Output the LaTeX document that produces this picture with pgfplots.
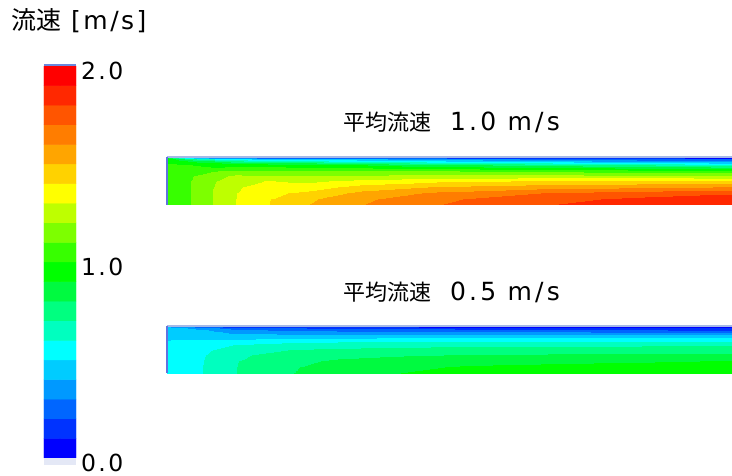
\documentclass[border=0pt]{standalone}
\usepackage{pgfplots}
\pgfplotsset{compat=1.18}
\usepackage{pgfplotstable}
\usepackage{fontspec}
\setmainfont{DejaVu Sans}
\newfontfamily\lat{DejaVu Sans}[LetterSpace=10]
\newfontfamily\latt{DejaVu Sans}[LetterSpace=13]
\newfontfamily\cjk{Noto Sans CJK JP}
\definecolor{wallline}{RGB}{165,185,232}
\definecolor{inletline}{RGB}{95,115,225}
\definecolor{cbtop}{RGB}{105,135,220}
\definecolor{cbbot}{RGB}{228,232,246}
\pgfplotsset{
  colormap={cfd}{rgb255=(0,0,255) rgb255=(0,51,255) rgb255=(0,102,255) rgb255=(0,153,255) rgb255=(0,204,255) rgb255=(0,255,255) rgb255=(0,255,191) rgb255=(0,255,128) rgb255=(0,250,64) rgb255=(0,255,0) rgb255=(55,255,0) rgb255=(125,255,0) rgb255=(190,255,0) rgb255=(255,255,0) rgb255=(255,210,0) rgb255=(255,165,0) rgb255=(255,125,0) rgb255=(255,85,0) rgb255=(255,40,0) rgb255=(255,0,0)},
  field/.style={scale only axis, width=565pt, xmin=0, xmax=565, ymin=0, ymax=1,
    hide axis, colormap name=cfd, colormap access=piecewise constant,
    point meta min=0, point meta max=2, clip=false,
    title style={at={(0.5,1)}, anchor=base, yshift=20pt, xshift=2pt, inner sep=0pt}},
}
% top field: mean velocity 1.0 m/s ; x in px from inlet, y = 1 - distance from wall
\pgfplotstableread[row sep=\\]{
x y u\\
0 1 0\\ 0 0.975 0.93\\ 0 0.95 0.96\\ 0 0.92 0.98\\ 0 0.88 0.995\\ 0 0.83 1.015\\ 0 0.77 1.025\\ 0 0.7 1.03\\ 0 0.6 1.03\\ 0 0.5 1.03\\ 0 0.38 1.03\\ 0 0.25 1.03\\ 0 0.12 1.03\\ 0 0 1.03\\
8 1 0\\ 8 0.975 0.75\\ 8 0.95 0.905\\ 8 0.92 0.96\\ 8 0.88 0.99\\ 8 0.83 1.015\\ 8 0.77 1.035\\ 8 0.7 1.05\\ 8 0.6 1.055\\ 8 0.5 1.06\\ 8 0.38 1.06\\ 8 0.25 1.06\\ 8 0.12 1.06\\ 8 0 1.06\\
23 1 0\\ 23 0.975 0.52\\ 23 0.95 0.74\\ 23 0.92 0.89\\ 23 0.88 0.96\\ 23 0.83 1.003\\ 23 0.77 1.04\\ 23 0.7 1.07\\ 23 0.6 1.09\\ 23 0.5 1.096\\ 23 0.38 1.098\\ 23 0.25 1.098\\ 23 0.12 1.098\\ 23 0 1.098\\
45 1 0\\ 45 0.975 0.38\\ 45 0.95 0.61\\ 45 0.92 0.81\\ 45 0.88 0.92\\ 45 0.83 0.97\\ 45 0.77 1.012\\ 45 0.7 1.09\\ 45 0.6 1.16\\ 45 0.5 1.185\\ 45 0.38 1.195\\ 45 0.25 1.198\\ 45 0.12 1.198\\ 45 0 1.198\\
68 1 0\\ 68 0.975 0.32\\ 68 0.95 0.52\\ 68 0.92 0.71\\ 68 0.88 0.87\\ 68 0.83 0.96\\ 68 0.77 1.04\\ 68 0.7 1.13\\ 68 0.6 1.22\\ 68 0.5 1.265\\ 68 0.38 1.285\\ 68 0.25 1.295\\ 68 0.12 1.298\\ 68 0 1.298\\
101 1 0\\ 101 0.975 0.29\\ 101 0.95 0.48\\ 101 0.92 0.67\\ 101 0.88 0.85\\ 101 0.83 0.95\\ 101 0.77 1.04\\ 101 0.7 1.12\\ 101 0.6 1.22\\ 101 0.5 1.305\\ 101 0.38 1.35\\ 101 0.25 1.38\\ 101 0.12 1.395\\ 101 0 1.398\\
140 1 0\\ 140 0.975 0.28\\ 140 0.95 0.46\\ 140 0.92 0.62\\ 140 0.88 0.81\\ 140 0.83 0.93\\ 140 0.77 1.012\\ 140 0.7 1.105\\ 140 0.6 1.205\\ 140 0.5 1.28\\ 140 0.38 1.35\\ 140 0.25 1.42\\ 140 0.12 1.48\\ 140 0 1.498\\
195 1 0\\ 195 0.975 0.25\\ 195 0.95 0.42\\ 195 0.92 0.57\\ 195 0.88 0.75\\ 195 0.83 0.905\\ 195 0.77 1.005\\ 195 0.7 1.105\\ 195 0.6 1.22\\ 195 0.5 1.33\\ 195 0.38 1.44\\ 195 0.25 1.53\\ 195 0.12 1.58\\ 195 0 1.598\\
271 1 0\\ 271 0.975 0.205\\ 271 0.95 0.36\\ 271 0.92 0.505\\ 271 0.88 0.67\\ 271 0.83 0.83\\ 271 0.77 0.97\\ 271 0.7 1.105\\ 271 0.6 1.24\\ 271 0.5 1.38\\ 271 0.38 1.51\\ 271 0.25 1.62\\ 271 0.12 1.68\\ 271 0 1.698\\
380 1 0\\ 380 0.975 0.14\\ 380 0.95 0.28\\ 380 0.92 0.43\\ 380 0.88 0.605\\ 380 0.83 0.77\\ 380 0.77 0.93\\ 380 0.7 1.08\\ 380 0.6 1.24\\ 380 0.5 1.41\\ 380 0.38 1.56\\ 380 0.25 1.705\\ 380 0.12 1.77\\ 380 0 1.798\\
470 1 0\\ 470 0.975 0.11\\ 470 0.95 0.23\\ 470 0.92 0.37\\ 470 0.88 0.53\\ 470 0.83 0.71\\ 470 0.77 0.89\\ 470 0.7 1.05\\ 470 0.6 1.23\\ 470 0.5 1.42\\ 470 0.38 1.58\\ 470 0.25 1.75\\ 470 0.12 1.82\\ 470 0 1.845\\
565 1 0\\ 565 0.975 0.09\\ 565 0.95 0.205\\ 565 0.92 0.33\\ 565 0.88 0.49\\ 565 0.83 0.66\\ 565 0.77 0.86\\ 565 0.7 1.03\\ 565 0.6 1.22\\ 565 0.5 1.42\\ 565 0.38 1.605\\ 565 0.25 1.79\\ 565 0.12 1.85\\ 565 0 1.87\\
}\toptab
% bottom field: mean velocity 0.5 m/s
\pgfplotstableread[row sep=\\]{
x y u\\
0 1 0\\ 0 0.975 0.42\\ 0 0.95 0.45\\ 0 0.92 0.47\\ 0 0.88 0.48\\ 0 0.83 0.488\\ 0 0.77 0.494\\ 0 0.7 0.499\\ 0 0.6 0.505\\ 0 0.5 0.51\\ 0 0.38 0.515\\ 0 0.25 0.518\\ 0 0.12 0.52\\ 0 0 0.52\\
10 1 0\\ 10 0.975 0.37\\ 10 0.95 0.43\\ 10 0.92 0.46\\ 10 0.88 0.475\\ 10 0.83 0.485\\ 10 0.77 0.494\\ 10 0.7 0.502\\ 10 0.6 0.515\\ 10 0.5 0.525\\ 10 0.38 0.532\\ 10 0.25 0.536\\ 10 0.12 0.538\\ 10 0 0.54\\
35 1 0\\ 35 0.975 0.27\\ 35 0.95 0.36\\ 35 0.92 0.42\\ 35 0.88 0.45\\ 35 0.83 0.47\\ 35 0.77 0.487\\ 35 0.7 0.505\\ 35 0.6 0.545\\ 35 0.5 0.575\\ 35 0.38 0.59\\ 35 0.25 0.596\\ 35 0.12 0.598\\ 35 0 0.598\\
68 1 0\\ 68 0.975 0.16\\ 68 0.95 0.25\\ 68 0.92 0.32\\ 68 0.88 0.37\\ 68 0.83 0.405\\ 68 0.77 0.45\\ 68 0.7 0.51\\ 68 0.6 0.605\\ 68 0.5 0.655\\ 68 0.38 0.685\\ 68 0.25 0.695\\ 68 0.12 0.698\\ 68 0 0.698\\
95 1 0\\ 95 0.975 0.13\\ 95 0.95 0.22\\ 95 0.92 0.305\\ 95 0.88 0.36\\ 95 0.83 0.405\\ 95 0.77 0.455\\ 95 0.7 0.53\\ 95 0.6 0.625\\ 95 0.5 0.675\\ 95 0.38 0.71\\ 95 0.25 0.732\\ 95 0.12 0.745\\ 95 0 0.75\\
125 1 0\\ 125 0.975 0.12\\ 125 0.95 0.205\\ 125 0.92 0.28\\ 125 0.88 0.345\\ 125 0.83 0.395\\ 125 0.77 0.47\\ 125 0.7 0.55\\ 125 0.6 0.645\\ 125 0.5 0.705\\ 125 0.38 0.745\\ 125 0.25 0.775\\ 125 0.12 0.792\\ 125 0 0.798\\
170 1 0\\ 170 0.975 0.11\\ 170 0.95 0.19\\ 170 0.92 0.265\\ 170 0.88 0.335\\ 170 0.83 0.395\\ 170 0.77 0.465\\ 170 0.7 0.56\\ 170 0.6 0.66\\ 170 0.5 0.72\\ 170 0.38 0.77\\ 170 0.25 0.815\\ 170 0.12 0.838\\ 170 0 0.848\\
228 1 0\\ 228 0.975 0.105\\ 228 0.95 0.175\\ 228 0.92 0.25\\ 228 0.88 0.325\\ 228 0.83 0.395\\ 228 0.77 0.47\\ 228 0.7 0.565\\ 228 0.6 0.67\\ 228 0.5 0.735\\ 228 0.38 0.79\\ 228 0.25 0.84\\ 228 0.12 0.878\\ 228 0 0.898\\
300 1 0\\ 300 0.975 0.09\\ 300 0.95 0.16\\ 300 0.92 0.235\\ 300 0.88 0.315\\ 300 0.83 0.39\\ 300 0.77 0.47\\ 300 0.7 0.568\\ 300 0.6 0.678\\ 300 0.5 0.745\\ 300 0.38 0.805\\ 300 0.25 0.87\\ 300 0.12 0.91\\ 300 0 0.925\\
400 1 0\\ 400 0.975 0.075\\ 400 0.95 0.14\\ 400 0.92 0.215\\ 400 0.88 0.305\\ 400 0.83 0.38\\ 400 0.77 0.468\\ 400 0.7 0.57\\ 400 0.6 0.684\\ 400 0.5 0.75\\ 400 0.38 0.815\\ 400 0.25 0.883\\ 400 0.12 0.925\\ 400 0 0.94\\
480 1 0\\ 480 0.975 0.065\\ 480 0.95 0.128\\ 480 0.92 0.205\\ 480 0.88 0.288\\ 480 0.83 0.373\\ 480 0.77 0.467\\ 480 0.7 0.57\\ 480 0.6 0.687\\ 480 0.5 0.753\\ 480 0.38 0.821\\ 480 0.25 0.892\\ 480 0.12 0.933\\ 480 0 0.951\\
565 1 0\\ 565 0.975 0.058\\ 565 0.95 0.116\\ 565 0.92 0.184\\ 565 0.88 0.277\\ 565 0.83 0.367\\ 565 0.77 0.467\\ 565 0.7 0.571\\ 565 0.6 0.689\\ 565 0.5 0.756\\ 565 0.38 0.827\\ 565 0.25 0.905\\ 565 0.12 0.94\\ 565 0 0.96\\
}\bottab
% colour bar cells
\pgfplotstableread[row sep=\\]{
x y c\\
0 0.05 0.05\\ 1 0.05 0.05\\ 0 0.15 0.15\\ 1 0.15 0.15\\ 0 0.25 0.25\\ 1 0.25 0.25\\ 0 0.35 0.35\\ 1 0.35 0.35\\ 0 0.45 0.45\\ 1 0.45 0.45\\
0 0.55 0.55\\ 1 0.55 0.55\\ 0 0.65 0.65\\ 1 0.65 0.65\\ 0 0.75 0.75\\ 1 0.75 0.75\\ 0 0.85 0.85\\ 1 0.85 0.85\\ 0 0.95 0.95\\ 1 0.95 0.95\\
0 1.05 1.05\\ 1 1.05 1.05\\ 0 1.15 1.15\\ 1 1.15 1.15\\ 0 1.25 1.25\\ 1 1.25 1.25\\ 0 1.35 1.35\\ 1 1.35 1.35\\ 0 1.45 1.45\\ 1 1.45 1.45\\
0 1.55 1.55\\ 1 1.55 1.55\\ 0 1.65 1.65\\ 1 1.65 1.65\\ 0 1.75 1.75\\ 1 1.75 1.75\\ 0 1.85 1.85\\ 1 1.85 1.85\\ 0 1.95 1.95\\ 1 1.95 1.95\\
}\cbtab
\begin{document}
\begin{tikzpicture}
\path[use as bounding box] (0pt,0pt) rectangle (732pt,-476pt);
% colour bar
\begin{axis}[at={(44pt,-66pt)}, anchor=north west, scale only axis, width=32pt, height=392pt,
  xmin=-0.5, xmax=1.5, ymin=0, ymax=2, clip=false,
  colormap name=cfd, colormap access=piecewise constant, point meta min=0, point meta max=2,
  axis line style={draw=none}, xtick=\empty, ytick={0,1,2}, yticklabels={0.0,1.0,2.0},
  yticklabel pos=right, major tick length=0pt,
  yticklabel style={font=\lat\fontsize{23.5}{28}\selectfont, anchor=west, inner sep=0pt, xshift=5pt, yshift=-5pt},
  title={{\cjk\fontsize{25}{30}\selectfont 流速}\hspace{10pt}{\lat\fontsize{25}{30}\selectfont [m/s]}},
  title style={at={(0,1)}, anchor=base west, xshift=-33pt, yshift=30pt, inner sep=0pt}]
\addplot[matrix plot*, mesh/cols=2, point meta=explicit] table[x=x, y=y, meta=c] {\cbtab};
\draw[line width=1.5pt, cbtop] (axis cs:-0.5,2.004) -- (axis cs:1.5,2.004);
\fill[cbbot] (axis cs:-0.5,-0.036) rectangle (axis cs:1.5,0);
\end{axis}
% top field
\begin{axis}[field, at={(167pt,-157pt)}, anchor=north west, height=48pt,
  title={{\cjk\fontsize{22}{26}\selectfont 平均流速}\hspace{19pt}{\latt\fontsize{25}{30}\selectfont 1.0 m/s}}]
\addplot[surf, shader=interp, mesh/cols=14, point meta=explicit] table[x=x, y=y, meta=u] {\toptab};
\draw[line width=2pt, wallline] (rel axis cs:0,1) -- (rel axis cs:1,1);
\draw[line width=1.5pt, inletline] (rel axis cs:0,0) -- (rel axis cs:0,1);
\end{axis}
% bottom field
\begin{axis}[field, at={(167pt,-326pt)}, anchor=north west, height=47pt,
  title={{\cjk\fontsize{22}{26}\selectfont 平均流速}\hspace{19pt}{\latt\fontsize{25}{30}\selectfont 0.5 m/s}}]
\addplot[surf, shader=interp, mesh/cols=14, point meta=explicit] table[x=x, y=y, meta=u] {\bottab};
\draw[line width=2pt, wallline] (rel axis cs:0,1) -- (rel axis cs:1,1);
\draw[line width=1.5pt, inletline] (rel axis cs:0,0) -- (rel axis cs:0,1);
\end{axis}
\end{tikzpicture}
\end{document}
